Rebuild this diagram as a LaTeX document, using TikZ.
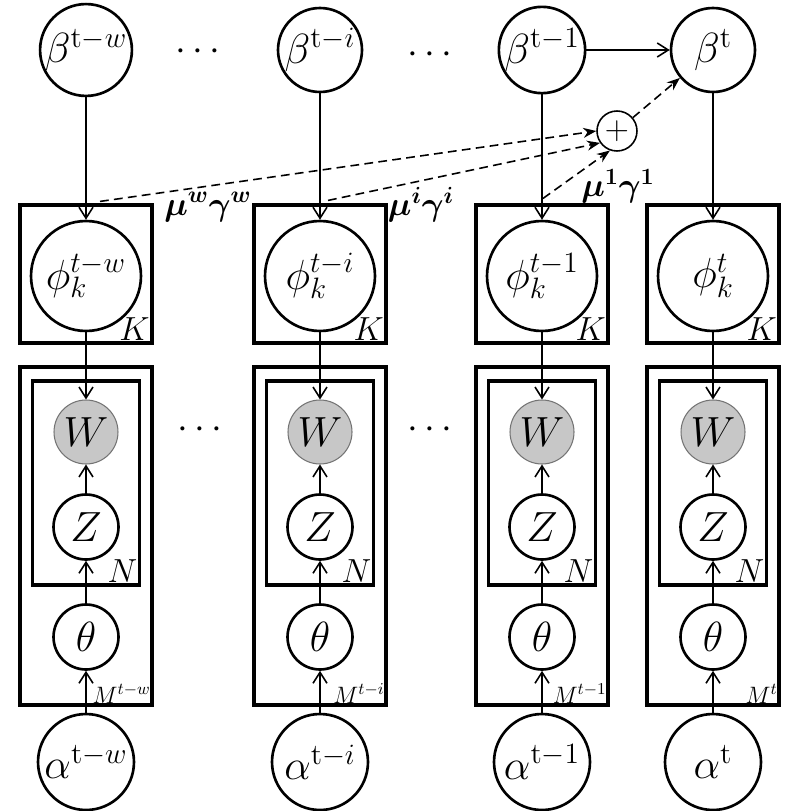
\documentclass[tikz,border=0pt]{standalone}
\usepackage{fix-cm}
\usepackage{bm}
\usetikzlibrary{arrows.meta,calc}

\begin{document}
\begin{tikzpicture}[x=0.02cm, y=-0.02cm,
    var/.style={circle, draw, line width=1.5pt, inner sep=0pt, font=\fontsize{24}{28}\selectfont},
    obs/.style={var, fill=black!22, draw=black!55, line width=0.6pt},
    plate/.style={draw, line width=1.8pt, inner sep=0pt},
    platelabel/.style={anchor=south east, inner sep=2pt, font=\fontsize{19}{22}\selectfont},
    doclabel/.style={anchor=south east, inner sep=1.5pt, font=\fontsize{13.5}{16}\selectfont},
    edge/.style={-{Straight Barb[length=2.2mm,width=2.8mm]}, line width=0.9pt},
    share/.style={-{Stealth[length=2.6mm,width=2mm]}, line width=0.9pt, dash pattern=on 5pt off 3pt},
    coef/.style={font=\fontsize{19}{22}\selectfont},
    dots/.style={font=\fontsize{22}{26}\selectfont}
  ]
  \useasboundingbox (0,0) rectangle (784,811);
  \foreach \c/\x/\su/\si in {a/86/{\mathrm{t}-w}/{t-w}, b/320/{\mathrm{t}-i}/{t-i}, c/542/{\mathrm{t}-1}/{t-1}, d/713/{\mathrm{t}}/{t}} {
    % plates
    \node[plate, minimum width=2.64cm, minimum height=2.76cm] (kbox\c) at (\x,274) {};
    \node[plate, minimum width=2.64cm, minimum height=6.76cm] (mbox\c) at (\x,536) {};
    \node[plate, minimum width=2.14cm, minimum height=4.08cm] (nbox\c) at (\x,483) {};
    \node[platelabel] (klab\c) at (kbox\c.south east) {$K$};
    \node[platelabel] (nlab\c) at (nbox\c.south east) {$N$};
    \node[doclabel] (mlab\c) at (mbox\c.south east) {$M^{\si}$};
    % variables
    \node[var, minimum size=1.68cm] (beta\c) at (\x,50) {$\beta^{\su}$};
    \node[var, minimum size=2.2cm] (phi\c) at (\x,276) {$\phi_k^{\si}$};
    \node[obs, minimum size=1.28cm] (w\c) at (\x,432) {$W$};
    \node[var, minimum size=1.3cm] (z\c) at (\x,527) {$Z$};
    \node[var, minimum size=1.3cm] (theta\c) at (\x,637) {$\theta$};
    \node[var, minimum size=1.92cm] (alpha\c) at (\x,762) {$\alpha^{\su}$};
    % edges
    \draw[edge] (beta\c) -- (phi\c);
    \draw[edge] (phi\c) -- (w\c);
    \draw[edge] (z\c) -- (w\c);
    \draw[edge] (theta\c) -- (z\c);
    \draw[edge] (alpha\c) -- (theta\c);
  }
  \draw[edge] (betac) -- (betad);

  % weighted sum of earlier topics
  \node[circle, draw, line width=0.9pt, minimum size=0.8cm, inner sep=0pt, font=\fontsize{19}{22}\selectfont] (plus) at (617,131) {$+$};
  \coordinate (ska) at ($(kboxa.north)+(14,-2)$);
  \coordinate (skb) at ($(kboxb.north)+(8,-3)$);
  \coordinate (skc) at ($(kboxc.north)+(1,-5)$);
  \draw[share] (ska) -- (plus.180);
  \draw[share] (skb) -- (plus.215);
  \draw[share] (skc) -- (plus.250);
  \draw[share] (plus) -- (betad);
  \node[coef] (mua) at (208,207) {$\bm{\mu^{w}\gamma^{w}}$};
  \node[coef] (mub) at (421,205) {$\bm{\mu^{i}\gamma^{i}}$};
  \node[coef] (muc) at (618,186) {$\bm{\mu^{1}\gamma^{1}}$};

  % ellipses
  \node[dots] (dta) at (198,52) {$\cdots$};
  \node[dots] (dtb) at (430,55) {$\cdots$};
  \node[dots] (dma) at (200,430) {$\cdots$};
  \node[dots] (dmb) at (430,430) {$\cdots$};
\end{tikzpicture}
\end{document}
